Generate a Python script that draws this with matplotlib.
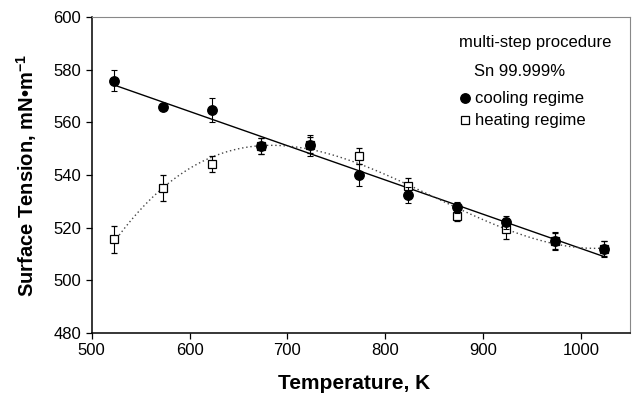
import numpy as np
import matplotlib.pyplot as plt

plt.rcParams['font.family'] = ['Liberation Sans', 'DejaVu Sans']
plt.rcParams['mathtext.fontset'] = 'custom'
plt.rcParams['mathtext.rm'] = 'Liberation Sans'
plt.rcParams['mathtext.bf'] = 'Liberation Sans:bold'

# temperatures, K
temp = np.array([523, 573, 623, 673, 723, 773, 823, 873, 923, 973, 1023])

# cooling regime (filled circles)
cool = np.array([575.9, 565.8, 564.7, 551.0, 551.4, 540.0, 532.5, 527.7, 522.0, 515.0, 511.8])
cool_err = np.array([4.0, 1.0, 4.5, 3.2, 4.0, 4.0, 3.0, 2.0, 2.5, 3.5, 3.0])

# heating regime (open squares)
heat = np.array([515.5, 535.0, 544.2, 551.0, 551.5, 547.2, 535.8, 524.4, 519.5, 515.0, 512.0])
heat_err = np.array([5.0, 5.0, 3.0, 3.0, 3.0, 3.0, 3.0, 2.0, 4.0, 3.0, 3.0])

fig = plt.figure(figsize=(6.32, 3.94), dpi=100)
ax = fig.add_axes([0.1451, 0.1556, 0.8517, 0.8005])

# trend lines
xx = np.linspace(temp[0], temp[-1], 200)
p_cool = np.polyfit(temp, cool, 1)
p_heat = np.polyfit(temp, heat, 3)
ax.plot(xx, np.polyval(p_cool, xx), color='black', lw=1.0, zorder=2)
ax.plot(xx, np.polyval(p_heat, xx), color='#444444', lw=1.0, ls=(0, (1, 2)), zorder=2)

ax.errorbar(temp, heat, yerr=heat_err, fmt='s', ms=6.3, mfc='white', mec='black',
            mew=0.9, ecolor='black', elinewidth=0.8, capsize=2.5, capthick=0.8, zorder=3)
ax.errorbar(temp, cool, yerr=cool_err, fmt='o', ms=6.8, mfc='black', mec='black',
            ecolor='black', elinewidth=0.8, capsize=2.5, capthick=0.8, zorder=4)

ax.set_xlim(500, 1050)
ax.set_ylim(480, 600)
ax.set_xticks([500, 600, 700, 800, 900, 1000])
ax.set_yticks([480, 500, 520, 540, 560, 580, 600])
ax.tick_params(direction='out', length=4, width=0.9, labelsize=12, colors='black')

for s in ['left', 'bottom']:
    ax.spines[s].set_linewidth(1.1)
for s in ['top', 'right']:
    ax.spines[s].set_color('#888888')
    ax.spines[s].set_linewidth(0.8)

ax.set_xlabel('Temperature, K', fontsize=15, fontweight='bold')
ax.xaxis.set_label_coords(0.487, -0.132)
ax.set_ylabel('Surface Tension, mN\u2022m$^{\\mathbf{-1}}$', fontsize=14.5, fontweight='bold')
ax.yaxis.set_label_coords(-0.097, 0.5)

# legend block
tr = ax.transAxes
ax.text(0.682, 0.919, 'multi-step procedure', transform=tr, fontsize=12, va='center')
ax.text(0.710, 0.828, 'Sn 99.999%', transform=tr, fontsize=12, va='center')
ax.plot([0.693], [0.743], 'o', ms=6.8, color='black', transform=tr, clip_on=False)
ax.text(0.712, 0.743, 'cooling regime', transform=tr, fontsize=12, va='center')
ax.plot([0.693], [0.674], 's', ms=6.3, mfc='white', mec='black', mew=0.9, transform=tr, clip_on=False)
ax.text(0.712, 0.674, 'heating regime', transform=tr, fontsize=12, va='center')

fig.savefig('out.png', dpi=100)
